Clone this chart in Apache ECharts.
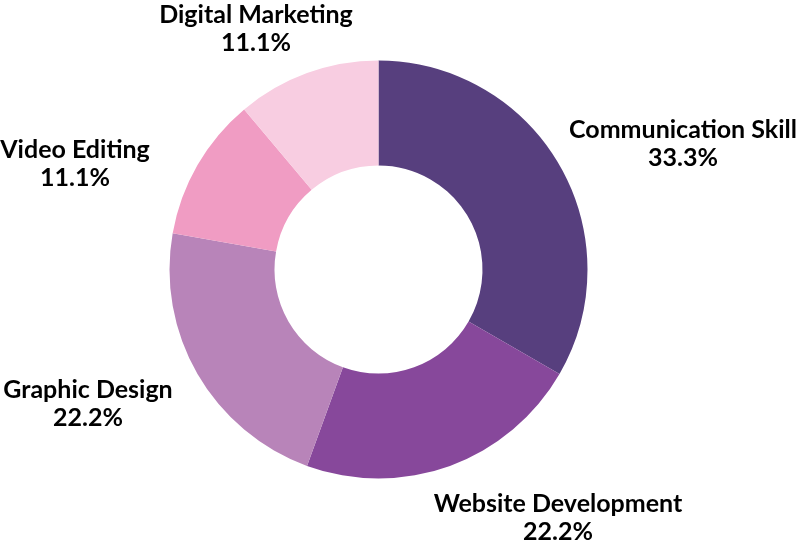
<!DOCTYPE html>
<html>
<head>
<meta charset="utf-8">
<script src="https://cdn.jsdelivr.net/npm/echarts@6/dist/echarts.min.js"></script>
<style>html,body{margin:0;padding:0;background:#fff;}#c{width:799px;height:547px;}</style>
</head>
<body>
<div id="c"></div>
<script>
const categories = ['Communication Skill', 'Website Development', 'Graphic Design', 'Video Editing', 'Digital Marketing'];
const values = [3, 2, 2, 1, 1];
const colors = ['#573F7E', '#87489B', '#B884B9', '#F09CC3', '#F8CDE1'];
// label centre positions (layout only)
const labelPos = [[683, 144], [558, 518], [88, 404], [75, 164], [256, 29]];

const chart = echarts.init(document.getElementById('c'));
chart.setOption({
  animation: false,
  series: [{
    type: 'pie',
    center: [378.5, 269.5],
    radius: [104, 209],
    startAngle: 90,
    clockwise: true,
    avoidLabelOverlap: false,
    data: categories.map((n, i) => ({ name: n, value: values[i], itemStyle: { color: colors[i] } })),
    label: {
      show: true,
      position: 'outside',
      formatter: p => p.name + '\n' + p.percent.toFixed(1) + '%',
      fontFamily: 'Lato',
      fontWeight: 'bold',
      fontSize: 25,
      lineHeight: 28,
      color: '#000',
      align: 'center'
    },
    labelLine: { show: false },
    labelLayout: function (params) {
      const p = labelPos[params.dataIndex];
      return { x: p[0], y: p[1], align: 'center', verticalAlign: 'middle' };
    }
  }]
});
</script>
</body>
</html>
